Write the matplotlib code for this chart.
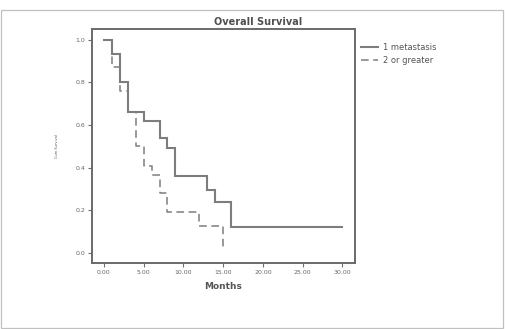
import matplotlib
matplotlib.use("Agg")
import matplotlib.pyplot as plt
from matplotlib.lines import Line2D
from matplotlib.patches import Rectangle

# Data
t_one = [0, 1, 2, 3, 5, 7, 8, 9, 13, 14, 16, 30]
s_one = [1.0, 0.933, 0.80, 0.663, 0.62, 0.54, 0.494, 0.36, 0.296, 0.24, 0.123, 0.123]

t_two = [0, 1, 2, 3, 4, 5, 6, 7, 8, 12, 15]
s_two = [1.0, 0.87, 0.76, 0.66, 0.50, 0.41, 0.366, 0.28, 0.19, 0.125, 0.03]

x_ticks = [0, 5, 10, 15, 20, 25, 30]
x_ticklabels = ["0.00", "5.00", "10.00", "15.00", "20.00", "25.00", "30.00"]
y_ticks = [0.0, 0.2, 0.4, 0.6, 0.8, 1.0]
y_ticklabels = ["0.0", "0.2", "0.4", "0.6", "0.8", "1.0"]
series_labels = ["1 metastasis", "2 or greater"]

W, H = 505, 329
fig = plt.figure(figsize=(W / 100, H / 100), dpi=100)
fig.patch.set_facecolor("white")

# light frame of chart area
fig.add_artist(Rectangle((1 / W, 1 / H), (W - 3) / W, (H - 11) / H,
                         transform=fig.transFigure, fill=False,
                         edgecolor="#c0c0c0", linewidth=0.9))

ax = fig.add_axes([92 / W, 1 - 263 / H, (355 - 92) / W, (263 - 29) / H])

line_col = "#7d7d7d"
ax.step(t_one, s_one, where="post", color=line_col, linewidth=1.5,
        solid_joinstyle="miter")
ax.step(t_two, s_two, where="post", color=line_col, linewidth=1.1,
        linestyle=(0, (5, 3)))

ax.set_xlim(-1.5, 31.6)
ax.set_ylim(-0.047, 1.05)
ax.set_xticks(x_ticks)
ax.set_xticklabels(x_ticklabels)
ax.set_yticks(y_ticks)
ax.set_yticklabels(y_ticklabels)

for sp in ax.spines.values():
    sp.set_color("#6a6a6a")
    sp.set_linewidth(1.4)
ax.tick_params(axis="both", direction="out", length=3, width=0.8,
               color="#707070", labelsize=4.5, labelcolor="#666666", pad=2)

ax.set_xlabel("Months", fontsize=6.5, fontweight="bold", color="#555555",
              labelpad=5)
ax.set_ylabel("Cum Survival", fontsize=2.5, color="#555555", labelpad=12)

fig.text(258 / W, 1 - 22 / H, "Overall Survival", ha="center", va="center",
         fontsize=7, fontweight="bold", color="#505050")

handles = [Line2D([0], [0], color=line_col, linewidth=1.5),
           Line2D([0], [0], color=line_col, linewidth=1.1,
                  linestyle=(0, (5, 3)))]
leg = fig.legend(handles, series_labels, loc="upper left",
                 bbox_to_anchor=(358 / W, 1 - 40 / H), frameon=False,
                 fontsize=6, handlelength=2.0, handletextpad=0.6,
                 labelspacing=0.45, borderaxespad=0)
for txt in leg.get_texts():
    txt.set_color("#555555")

fig.savefig("out.png", dpi=100, facecolor="white")
